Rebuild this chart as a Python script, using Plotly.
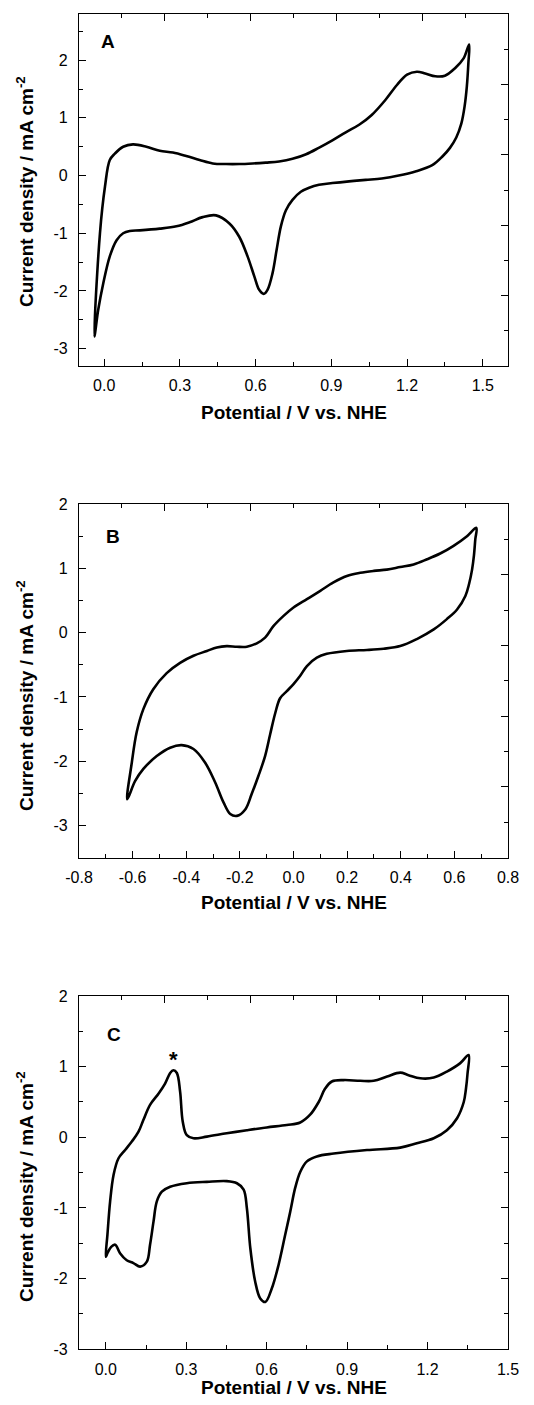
import plotly.graph_objects as go

W, H = 534, 1405
FONT = "Arial, 'Liberation Sans', sans-serif"

# ---------------- Panel A data (potential V vs NHE, current density mA cm-2)
a_fwd_v = [-0.039, -0.017, 0.003, 0.022, 0.042, 0.075, 0.114, 0.167, 0.22, 0.272, 0.325, 0.378,
           0.43, 0.483, 0.535, 0.588, 0.64, 0.693, 0.746, 0.80, 0.85, 0.904, 0.957, 1.01, 1.06,
           1.114, 1.16, 1.20, 1.239, 1.272, 1.312, 1.35, 1.39, 1.424, 1.446]
a_fwd_j = [-2.79, -1.0, -0.19, 0.27, 0.38, 0.50, 0.54, 0.50, 0.43, 0.40, 0.34, 0.27,
           0.21, 0.20, 0.20, 0.21, 0.225, 0.245, 0.29, 0.37, 0.48, 0.61, 0.75, 0.88, 1.05,
           1.31, 1.57, 1.75, 1.80, 1.77, 1.72, 1.73, 1.86, 2.03, 2.27]
a_rev_v = [1.443, 1.437, 1.428, 1.415, 1.395, 1.37, 1.34, 1.30, 1.233, 1.167, 1.10, 1.036, 0.97,
           0.904, 0.851, 0.812, 0.779, 0.746, 0.72, 0.70, 0.683, 0.667, 0.647, 0.632, 0.614,
           0.595, 0.568, 0.535, 0.496, 0.443, 0.39, 0.338, 0.286, 0.22, 0.141, 0.101, 0.075,
           0.049, 0.022, -0.004, -0.024, -0.039]
a_rev_j = [1.95, 1.55, 1.20, 0.90, 0.66, 0.48, 0.33, 0.18, 0.07, 0.0, -0.05, -0.075, -0.10,
           -0.13, -0.16, -0.21, -0.28, -0.42, -0.60, -0.88, -1.29, -1.69, -1.98, -2.05, -1.98,
           -1.75, -1.40, -1.06, -0.83, -0.69, -0.72, -0.81, -0.88, -0.92, -0.95, -0.96, -1.0,
           -1.12, -1.40, -1.87, -2.33, -2.79]

# ---------------- Panel B data
b_fwd_v = [-0.62, -0.603, -0.585, -0.56, -0.523, -0.473, -0.423, -0.373, -0.323, -0.286, -0.249,
           -0.211, -0.174, -0.137, -0.106, -0.075, -0.037, 0.0, 0.05, 0.10, 0.149, 0.199, 0.249,
           0.299, 0.348, 0.398, 0.448, 0.498, 0.547, 0.597, 0.647, 0.682]
b_fwd_j = [-2.59, -2.02, -1.55, -1.19, -0.88, -0.63, -0.47, -0.36, -0.285, -0.23, -0.21,
           -0.22, -0.22, -0.166, -0.078, 0.10, 0.26, 0.39, 0.52, 0.65, 0.78, 0.88, 0.93,
           0.96, 0.98, 1.02, 1.06, 1.14, 1.23, 1.35, 1.50, 1.63]
b_rev_v = [0.678, 0.673, 0.666, 0.655, 0.641, 0.61, 0.572, 0.523, 0.46, 0.398, 0.336, 0.274, 0.199,
           0.124, 0.087, 0.05, 0.025, 0.0, -0.025, -0.05, -0.068, -0.087, -0.106, -0.131, -0.156,
           -0.18, -0.211, -0.236, -0.261, -0.292, -0.33, -0.373, -0.417, -0.46, -0.51, -0.56,
           -0.591, -0.62]
b_rev_j = [1.45, 1.20, 0.98, 0.76, 0.57, 0.36, 0.21, 0.05, -0.10, -0.21, -0.25, -0.27, -0.285,
           -0.33, -0.39, -0.52, -0.67, -0.80, -0.91, -1.02, -1.25, -1.58, -1.92, -2.23, -2.51,
           -2.75, -2.85, -2.82, -2.64, -2.33, -2.02, -1.81, -1.75, -1.79, -1.92, -2.12,
           -2.31, -2.59]

# ---------------- Panel C data
c_fwd_v = [0.0, 0.006, 0.016, 0.029, 0.047, 0.072, 0.097, 0.122, 0.14, 0.165, 0.197, 0.221,
           0.24, 0.252, 0.265, 0.277, 0.287, 0.302, 0.327, 0.377, 0.451, 0.526, 0.60, 0.675,
           0.725, 0.762, 0.794, 0.818, 0.843, 0.887, 0.949, 0.999, 1.049, 1.098, 1.129, 1.173,
           1.223, 1.272, 1.322, 1.353]
c_fwd_j = [-1.69, -1.38, -0.91, -0.53, -0.30, -0.18, -0.06, 0.08, 0.245, 0.46, 0.62, 0.76,
           0.91, 0.95, 0.91, 0.65, 0.22, 0.03, -0.014, 0.01, 0.057, 0.10, 0.14, 0.175,
           0.21, 0.32, 0.50, 0.69, 0.79, 0.81, 0.80, 0.80, 0.86, 0.915, 0.88, 0.835,
           0.845, 0.93, 1.05, 1.165]
c_rev_v = [1.349, 1.343, 1.335, 1.31, 1.272, 1.223, 1.16, 1.098, 0.974, 0.85, 0.787, 0.75, 0.725,
           0.706, 0.688, 0.669, 0.644, 0.619, 0.595, 0.576, 0.557, 0.539, 0.526, 0.514, 0.489,
           0.451, 0.377, 0.302, 0.24, 0.209, 0.19, 0.178, 0.165, 0.153, 0.128, 0.103, 0.078,
           0.053, 0.035, 0.02, 0.006, 0.0]
c_rev_j = [0.90, 0.68, 0.50, 0.27, 0.10, -0.014, -0.085, -0.146, -0.18, -0.23, -0.27, -0.34, -0.49,
           -0.72, -1.05, -1.38, -1.81, -2.14, -2.33, -2.28, -2.04, -1.57, -1.00, -0.74, -0.65,
           -0.62, -0.63, -0.65, -0.70, -0.77, -0.91, -1.19, -1.52, -1.76, -1.83, -1.78, -1.74,
           -1.64, -1.52, -1.55, -1.64, -1.69]

# ---------------- Axis ticks / labels
a_x_ticks = [0.0, 0.3, 0.6, 0.9, 1.2, 1.5]
a_x_labels = ["0.0", "0.3", "0.6", "0.9", "1.2", "1.5"]
a_y_ticks = [-3, -2, -1, 0, 1, 2]
a_y_labels = ["-3", "-2", "-1", "0", "1", "2"]
b_x_ticks = [-0.8, -0.6, -0.4, -0.2, 0.0, 0.2, 0.4, 0.6, 0.8]
b_x_labels = ["-0.8", "-0.6", "-0.4", "-0.2", "0.0", "0.2", "0.4", "0.6", "0.8"]
b_y_ticks = [-3, -2, -1, 0, 1, 2]
b_y_labels = ["-3", "-2", "-1", "0", "1", "2"]
c_x_ticks = [0.0, 0.3, 0.6, 0.9, 1.2, 1.5]
c_x_labels = ["0.0", "0.3", "0.6", "0.9", "1.2", "1.5"]
c_y_ticks = [-3, -2, -1, 0, 1, 2]
c_y_labels = ["-3", "-2", "-1", "0", "1", "2"]

panel_labels = ["A", "B", "C"]
x_title = "Potential / V vs. NHE"
y_title = "Current density / mA cm<sup>-2</sup>"


def py(p):
    return 1 - p / H


def px(p):
    return p / W


def midpoints(vals, lo, hi):
    step = vals[1] - vals[0]
    out = []
    v = vals[0] - step / 2
    while v > lo:
        out.append(v)
        v -= step
    for a, b in zip(vals[:-1], vals[1:]):
        out.append((a + b) / 2)
    v = vals[-1] + step / 2
    while v < hi:
        out.append(v)
        v += step
    return out


xdom = [px(79), px(508)]
panels = [
    dict(v=a_fwd_v + a_rev_v, j=a_fwd_j + a_rev_j, xr=[-0.1, 1.6], yr=[-3.3, 2.8],
         xt=a_x_ticks, xl=a_x_labels, yt=a_y_ticks, yl=a_y_labels,
         top=14, bot=366, ytc=192, xtc=412, lab=(0.016, 2.32)),
    dict(v=b_fwd_v + b_rev_v, j=b_fwd_j + b_rev_j, xr=[-0.8, 0.8], yr=[-3.5, 2.0],
         xt=b_x_ticks, xl=b_x_labels, yt=b_y_ticks, yl=b_y_labels,
         top=504, bot=857.7, ytc=696, xtc=902, lab=(-0.672, 1.50)),
    dict(v=c_fwd_v + c_rev_v, j=c_fwd_j + c_rev_j, xr=[-0.1, 1.5], yr=[-3.0, 2.0],
         xt=c_x_ticks, xl=c_x_labels, yt=c_y_ticks, yl=c_y_labels,
         top=996, bot=1349.3, ytc=1187, xtc=1387, lab=(0.031, 1.46)),
]

fig = go.Figure()
layout = dict(
    width=W, height=H, margin=dict(l=0, r=0, t=0, b=0),
    paper_bgcolor="white", plot_bgcolor="white", showlegend=False,
    font=dict(family=FONT, color="black"), hovermode=False,
)
annotations = []
LW = 1.3

for i, p in enumerate(panels):
    n = i + 1
    xs = "" if n == 1 else str(n)
    tx = str(n + 3)
    ydom = [py(p["bot"]), py(p["top"])]
    fig.add_trace(go.Scatter(x=p["v"], y=p["j"], mode="lines",
                             line=dict(color="black", width=2.6, shape="spline", smoothing=1.0),
                             xaxis="x" + xs, yaxis="y" + xs))
    # helper traces so the frame axes (top / right) are drawn
    fig.add_trace(go.Scatter(x=[None], y=[None], xaxis="x" + tx, yaxis="y" + xs, hoverinfo="skip"))
    fig.add_trace(go.Scatter(x=[None], y=[None], xaxis="x" + xs, yaxis="y" + tx, hoverinfo="skip"))

    common = dict(showgrid=False, zeroline=False, showline=True, linecolor="black",
                  linewidth=LW, ticks="inside", ticklen=7, tickwidth=LW, tickcolor="black",
                  automargin=False)
    layout["xaxis" + xs] = dict(
        domain=xdom, anchor="y" + xs, range=p["xr"], tickmode="array",
        tickvals=p["xt"], ticktext=p["xl"], tickfont=dict(size=16, family=FONT, color="black"),
        ticklabelstandoff=5,
        minor=dict(tickmode="array", tickvals=midpoints(p["xt"], p["xr"][0], p["xr"][1]),
                   ticks="inside", ticklen=4, tickwidth=LW, tickcolor="black", showgrid=False),
        **common)
    layout["yaxis" + xs] = dict(
        domain=ydom, anchor="x" + xs, range=p["yr"], tickmode="array",
        tickvals=p["yt"], ticktext=p["yl"], tickfont=dict(size=16, family=FONT, color="black"),
        ticklabelstandoff=7,
        minor=dict(tickmode="array", tickvals=midpoints(p["yt"], p["yr"][0], p["yr"][1]),
                   ticks="inside", ticklen=4, tickwidth=LW, tickcolor="black", showgrid=False),
        **common)
    layout["xaxis" + tx] = dict(
        domain=xdom, anchor="y" + xs, overlaying="x" + xs, side="top", range=[0, 10],
        tickmode="array", tickvals=[2, 4, 6, 8], showticklabels=False,
        minor=dict(tickmode="array", tickvals=[1, 3, 5, 7, 9], ticks="inside", ticklen=4,
                   tickwidth=LW, tickcolor="black", showgrid=False),
        **common)
    layout["yaxis" + tx] = dict(
        domain=ydom, anchor="x" + xs, overlaying="y" + xs, side="right", range=[0, 10],
        tickmode="array", tickvals=[2, 4, 6, 8], showticklabels=False,
        minor=dict(tickmode="array", tickvals=[1, 3, 5, 7, 9], ticks="inside", ticklen=4,
                   tickwidth=LW, tickcolor="black", showgrid=False),
        **common)

    annotations.append(dict(text="<b>" + y_title + "</b>", textangle=-90, x=px(25), y=py(p["ytc"]),
                            xref="paper", yref="paper", showarrow=False,
                            xanchor="center", yanchor="middle",
                            font=dict(size=19, family=FONT, color="black")))
    annotations.append(dict(text="<b>" + x_title + "</b>", x=px(293.5), y=py(p["xtc"]),
                            xref="paper", yref="paper", showarrow=False,
                            xanchor="center", yanchor="middle",
                            font=dict(size=19, family=FONT, color="black")))
    annotations.append(dict(text="<b>" + panel_labels[i] + "</b>", x=p["lab"][0], y=p["lab"][1],
                            xref="x" + xs, yref="y" + xs, showarrow=False,
                            xanchor="center", yanchor="middle",
                            font=dict(size=19, family=FONT, color="black")))

annotations.append(dict(text="<b>*</b>", x=0.2525, y=1.10, xref="x3", yref="y3", showarrow=False,
                        xanchor="center", yanchor="middle",
                        font=dict(size=22, family=FONT, color="black")))

layout["annotations"] = annotations
fig.update_layout(**layout)
fig.write_html("out.html", config={"displayModeBar": False},
               post_script="document.body.style.margin='0';document.body.style.overflow='hidden';")
